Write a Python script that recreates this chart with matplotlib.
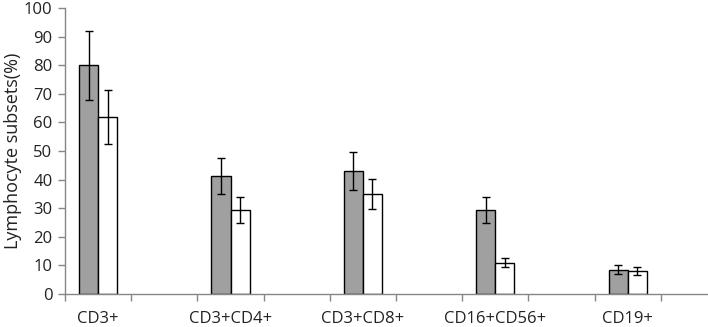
import matplotlib
matplotlib.use("Agg")
import matplotlib.pyplot as plt
import numpy as np

plt.rcParams['font.family'] = ['Open Sans', 'DejaVu Sans']

categories = ["CD3+", "", "CD3+CD4+", "", "CD3+CD8+", "", "CD16+CD56+", "", "CD19+", ""]
group1 = [80.0, np.nan, 41.2, np.nan, 43.0, np.nan, 29.5, np.nan, 8.5, np.nan]
group1_err = [12.0, np.nan, 6.2, np.nan, 6.5, np.nan, 4.5, np.nan, 1.5, np.nan]
group2 = [62.0, np.nan, 29.5, np.nan, 35.0, np.nan, 11.0, np.nan, 8.0, np.nan]
group2_err = [9.5, np.nan, 4.5, np.nan, 5.2, np.nan, 1.6, np.nan, 1.3, np.nan]
yticks = [0, 10, 20, 30, 40, 50, 60, 70, 80, 90, 100]

fig = plt.figure(figsize=(7.08, 3.27), dpi=100)
ax = fig.add_axes([65/708, 1-294/327, (708-65)/708, (294-8)/327])

x = np.arange(len(categories))
w = 0.29
axis_col = '#868686'
ax.bar(x - w/2, group1, w, color='#a0a0a0', edgecolor='black', linewidth=1.0, zorder=2)
ax.bar(x + w/2, group2, w, color='white', edgecolor='black', linewidth=1.0, zorder=2)
ax.errorbar(x - w/2, group1, yerr=group1_err, fmt='none', ecolor='black', elinewidth=1.0, capsize=3, capthick=1.0, zorder=3)
ax.errorbar(x + w/2, group2, yerr=group2_err, fmt='none', ecolor='black', elinewidth=1.0, capsize=3, capthick=1.0, zorder=3)

ax.set_yticks(yticks)
ax.set_yticklabels([str(v) for v in yticks], fontsize=12, color='#222222')
ax.set_xticks(x)
ax.set_xticklabels(categories, fontsize=12, color='#222222')
ax.set_xticks(np.arange(-0.5, len(categories), 1.0), minor=True)
ax.set_xlim(-0.5, -0.5 + (708-65)/66.2)
ax.set_ylim(0, 100)
ax.tick_params(axis='x', which='major', length=0, pad=12)
ax.tick_params(axis='x', which='minor', length=5, color=axis_col, direction='out', width=1)
ax.tick_params(axis='y', length=5, color=axis_col, direction='out', width=1, pad=4)

for s in ['top', 'right']:
    ax.spines[s].set_visible(False)
for s in ['left', 'bottom']:
    ax.spines[s].set_color(axis_col)
    ax.spines[s].set_linewidth(1.0)

ax.set_ylabel("Lymphocyte subsets(%)", fontsize=13, color='#222222', labelpad=1)

fig.savefig("out.png", dpi=100)
